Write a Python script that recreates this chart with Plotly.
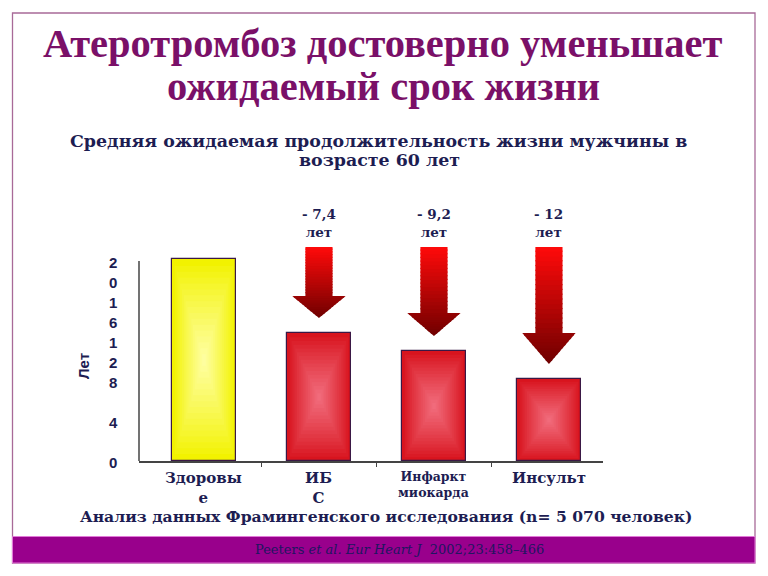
import plotly.graph_objects as go

# ---------------- data ----------------
categories = ["Здоровые", "ИБС", "Инфаркт миокарда", "Инсульт"]
cat_labels = ["Здоровы<br>е", "ИБ<br>С", "Инфаркт<br>миокарда", "Инсульт"]
life_years = [20.2, 12.8, 11.0, 8.2]
loss_labels = ["- 7,4<br>лет", "- 9,2<br>лет", "- 12<br>лет"]
ytick_vals = [0, 4, 8, 12, 16, 20]
ytick_text = ["0", "4", "8", "1<br>2", "1<br>6", "2<br>0"]

title1 = "Атеротромбоз достоверно уменьшает"
title2 = "ожидаемый срок жизни"
subtitle1 = "Средняя ожидаемая продолжительность жизни мужчины в"
subtitle2 = "возрасте 60 лет"
footer = "Анализ данных Фрамингенского исследования (n= 5 070 человек)"
citation = "Peeters <i>et al. Eur Heart J</i>  2002;23:458–466"

# ---------------- style ----------------
W, H = 768, 576
NAVY = "#1d1d52"
PURPLE = "#7a1068"
SERIF = "DejaVu Serif"
SANS = "Liberation Sans, Arial"

def px(x):
    return x / W

def py(y):
    return 1 - y / H

def mix(c1, c2, t):
    a = [int(c1[i:i + 2], 16) for i in (1, 3, 5)]
    b = [int(c2[i:i + 2], 16) for i in (1, 3, 5)]
    return "#%02x%02x%02x" % tuple(round(a[k] + (b[k] - a[k]) * t) for k in range(3))

x_pos = list(range(len(categories)))
bar_w = 0.55
edge_cols = ["#f2f200"] + ["#d8141e"] * 3
center_cols = ["#ffffa8"] + ["#f27080"] * 3

fig = go.Figure()
fig.add_trace(go.Bar(
    x=x_pos, y=life_years, width=bar_w,
    marker=dict(color=edge_cols, line=dict(color="#3a1845", width=1.2)),
    hoverinfo="skip", showlegend=False,
))

shapes = []

# radial-ish gradient inside bars
N = 16
for i, v in enumerate(life_years):
    cx, cy = x_pos[i], v / 2
    hw, hh = bar_w / 2 * 0.985, v / 2 * 0.99
    for k in range(1, N + 1):
        f = k / (N + 1)
        s = 1 - f
        shapes.append(dict(
            type="rect", xref="x", yref="y", layer="above",
            x0=cx - hw * s, x1=cx + hw * s, y0=cy - hh * s, y1=cy + hh * s,
            fillcolor=mix(edge_cols[i], center_cols[i], f ** 0.9),
            line=dict(width=0),
        ))

# gradient arrows above the disease bars
arrow_top = 21.4
gap = 1.5
head_h = [2.2, 2.3, 3.1]
shaft_hw = 0.118
head_hw = 0.232
TOP_C, BOT_C = "#ff0a0a", "#6e0000"
OV = 0.12
for j in range(len(loss_labels)):
    i = j + 1
    cx = x_pos[i]
    tip = life_years[i] + gap
    hs = tip + head_h[j]
    total = arrow_top - tip

    def col(y):
        return mix(BOT_C, TOP_C, (y - tip) / total)

    ns = 18
    for k in range(ns):
        y0 = hs + (arrow_top - hs) * k / ns
        y1 = min(hs + (arrow_top - hs) * (k + 1) / ns + OV, arrow_top)
        shapes.append(dict(
            type="rect", xref="x", yref="y", layer="above",
            x0=cx - shaft_hw, x1=cx + shaft_hw, y0=y0, y1=y1,
            fillcolor=col((y0 + y1) / 2), line=dict(width=0),
        ))
    nh = 10
    for k in range(nh):
        ya = tip + head_h[j] * k / nh
        yb = min(tip + head_h[j] * (k + 1) / nh + OV, hs)
        wa = head_hw * (ya - tip) / head_h[j]
        wb = head_hw * (yb - tip) / head_h[j]
        path = (f"M {cx - wa} {ya} L {cx + wa} {ya} L {cx + wb} {yb} "
                f"L {cx - wb} {yb} Z")
        shapes.append(dict(
            type="path", xref="x", yref="y", layer="above", path=path,
            fillcolor=col((ya + yb) / 2), line=dict(width=0),
        ))

# y axis line (only up to 20)
shapes.append(dict(type="line", xref="paper", yref="y", x0=px(139), x1=px(139),
                   y0=0, y1=ytick_vals[-1], line=dict(color="#444444", width=1.5)))

# slide frame and bottom band
shapes.append(dict(type="rect", xref="paper", yref="paper",
                   x0=px(12.5), x1=px(755), y0=py(563), y1=py(13),
                   line=dict(color="#a86a98", width=1.3), layer="below"))
shapes.append(dict(type="rect", xref="paper", yref="paper",
                   x0=px(12.5), x1=px(755), y0=py(563), y1=py(536.5),
                   fillcolor="#99008c", line=dict(color="#e27ad8", width=1),
                   layer="below"))


def note(text, x, y, size, family, color, **kw):
    d = dict(text=text, x=x, y=y, xref="paper", yref="paper", showarrow=False,
             xanchor="center", yanchor="middle",
             font=dict(family=family, size=size, color=color))
    d.update(kw)
    return d


annotations = [
    note(f"<b>{title1}</b>", px(383), py(44), 40.5, "Liberation Serif", PURPLE),
    note(f"<b>{title2}</b>", px(383), py(86), 40.5, "Liberation Serif", PURPLE),
    note(f"<b>{subtitle1}</b>", px(378), py(141), 17.4, SERIF, NAVY),
    note(f"<b>{subtitle2}</b>", px(379), py(160), 17.4, SERIF, NAVY),
    note(f"<b>{footer}</b>", px(386), py(516), 15.6, SERIF, NAVY),
    note(citation, px(399), py(549), 13, SERIF, "#201660"),
    note("<b>Лет</b>", px(83), py(366), 15, SANS, NAVY, textangle=-90),
]

# y tick labels
for v, t in zip(ytick_vals, ytick_text):
    annotations.append(dict(text=f"<b>{t}</b>", x=px(113), y=v, xref="paper", yref="y",
                            xanchor="center", yanchor="top", yshift=9, showarrow=False,
                            font=dict(family=SANS, size=15, color=NAVY)))

# category labels
cat_sizes = [15, 15, 12.5, 15]
for i, t in enumerate(cat_labels):
    annotations.append(dict(text=f"<b>{t}</b>", x=x_pos[i], y=0, xref="x", yref="y",
                            xanchor="center", yanchor="top", yshift=-6, showarrow=False,
                            font=dict(family=SERIF, size=cat_sizes[i], color=NAVY)))

# loss labels above arrows
for j, t in enumerate(loss_labels):
    annotations.append(dict(text=f"<b>{t}</b>", x=x_pos[j + 1], y=arrow_top, xref="x", yref="y",
                            xanchor="center", yanchor="bottom", yshift=5, showarrow=False,
                            font=dict(family=SERIF, size=13.5, color=NAVY)))

fig.update_layout(
    width=W, height=H,
    margin=dict(l=0, r=0, t=0, b=0),
    paper_bgcolor="white", plot_bgcolor="white",
    shapes=shapes, annotations=annotations,
    xaxis=dict(domain=[px(139), px(603)], range=[-0.565, 3.47],
               tickvals=[0.5, 1.5, 2.5, 3.5], ticktext=["", "", "", ""],
               ticks="outside", ticklen=4, tickcolor="#444444",
               showline=True, linecolor="#444444", linewidth=1.5,
               showgrid=False, zeroline=False, fixedrange=True),
    yaxis=dict(domain=[py(461), py(211)], range=[0, 25],
               showticklabels=False, ticks="", showline=False,
               showgrid=False, zeroline=False, fixedrange=True),
    bargap=0,
    showlegend=False,
)

fig.write_html("out.html", config={"displayModeBar": False},
               post_script="document.body.style.margin='0px';document.body.style.padding='0px';")
